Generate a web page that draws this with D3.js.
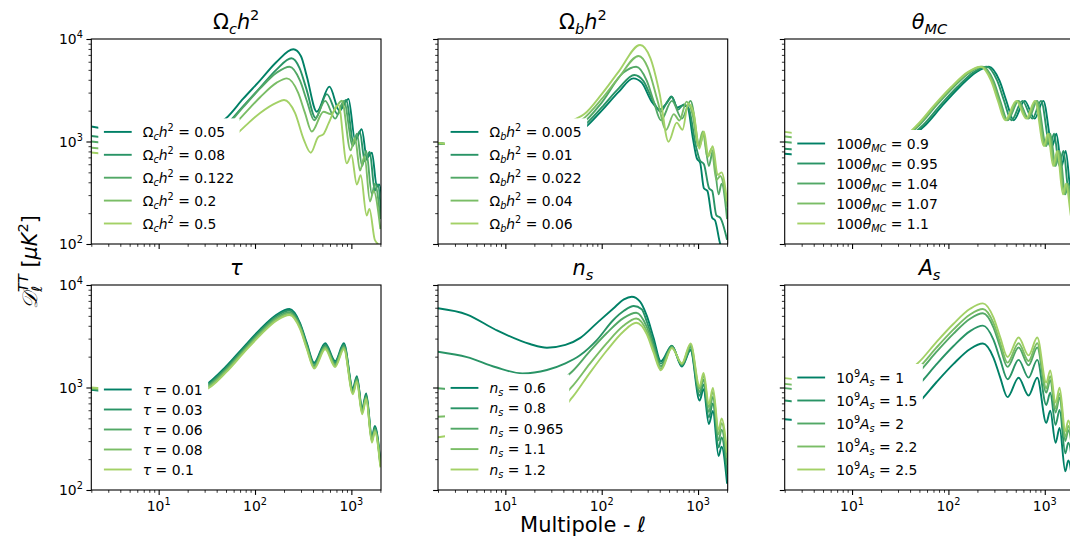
<!DOCTYPE html>
<html><head><meta charset="utf-8">
<script src="https://d3js.org/d3.v7.min.js"></script>
<style>
html,body{margin:0;padding:0;background:#fff;}
svg text{font-family:"DejaVu Sans",sans-serif;white-space:pre;fill:#000;}
</style></head>
<body><svg id="fig" width="1070" height="540"></svg>
<script>
// ---------------- DATA ----------------
const xMajorTicks = [10, 100, 1000];
const xMinorTicks = [2,3,4,5,6,7,8,9,20,30,40,50,60,70,80,90,200,300,400,500,600,700,800,900,2000];
const yMajorTicks = [100, 1000, 10000];
const yMinorTicks = [200,300,400,500,600,700,800,900,2000,3000,4000,5000,6000,7000,8000,9000];
const xTickExps = ["1","2","3"];
const yTickExps = ["2","3","4"];
const xDomain = [2, 2030];
const yDomain = [100, 10000];

const omch2Values = ["0.05","0.08","0.122","0.2","0.5"];
const omch2Curves = [
 [[2,1400],[4,1250],[8,1130],[15,1150],[30,1300],[50,1683],[75,2600],[113,3950],[168,6000],[250,7930],[300,6800],[345,4300],[438,1954],[592,3427],[752,2000],[933,2600],[1094,1035],[1282,1315],[1448,690],[1633,778],[1840,362],[1950,380],[2100,250]],
 [[2,1130],[4,1050],[8,980],[15,1000],[30,1150],[50,1450],[75,2200],[113,3350],[168,5050],[239,6480],[290,5200],[340,3300],[425,1700],[556,2900],[720,1850],[880,2550],[1060,950],[1220,1250],[1380,640],[1550,790],[1750,330],[1880,380],[2050,180]],
 [[2,1000],[4,930],[8,870],[15,880],[30,1010],[50,1400],[75,2150],[113,3300],[168,4700],[228,5370],[294,3900],[345,2500],[411,1610],[535,2490],[679,1670],[836,2490],[1036,905],[1140,1190],[1294,578],[1425,807],[1633,305],[1754,388],[2000,175]],
 [[2,870],[4,820],[8,770],[15,780],[30,880],[50,1200],[75,1800],[113,2700],[168,3750],[214,4130],[280,3000],[330,1900],[388,1250],[514,1954],[610,1850],[797,2500],[980,820],[1090,1080],[1230,520],[1370,720],[1560,260],[1700,330],[2000,140]],
 [[2,780],[4,730],[8,690],[15,700],[30,780],[50,950],[75,1350],[113,1900],[168,2400],[200,2540],[260,1900],[320,1050],[379,778],[450,1100],[514,1183],[580,1500],[735,2290],[897,612],[1000,738],[1140,380],[1250,470],[1440,190],[1540,220],[1750,110],[1900,100]]
];

const ombh2Values = ["0.005","0.01","0.022","0.04","0.06"];
const ombh2Curves = [
 [[2,960],[4,900],[8,850],[15,860],[30,980],[50,1150],[66,1346],[100,2000],[150,3050],[213,4130],[260,3750],[330,2450],[400,2050],[470,2350],[530,2750],[610,2150],[700,2250],[780,2150],[880,1100],[971,685],[1050,620],[1150,350],[1250,330],[1400,180],[1500,170],[1700,100],[1800,90]],
 [[2,960],[4,900],[8,850],[15,860],[30,990],[50,1220],[66,1440],[100,2150],[150,3300],[218,4455],[270,3900],[340,2500],[410,1950],[480,2450],[535,2720],[620,2050],[710,2300],[800,2100],[950,900],[1050,650],[1150,600],[1300,350],[1400,330],[1550,190],[1700,180],[2000,110]],
 [[2,965],[4,910],[8,860],[15,870],[30,1010],[50,1400],[66,1560],[100,2400],[168,4700],[228,5370],[294,3900],[345,2500],[411,1610],[535,2490],[679,1670],[836,2490],[1036,905],[1140,1190],[1294,578],[1425,807],[1633,305],[1754,388],[2000,175]],
 [[2,960],[4,900],[8,860],[15,870],[30,1030],[50,1450],[66,1700],[100,2600],[150,4200],[242,6830],[300,5300],[380,2500],[465,1295],[560,1850],[640,1600],[760,2450],[880,1800],[1000,900],[1120,1250],[1250,700],[1380,850],[1550,420],[1700,460],[2000,230]],
 [[2,970],[4,910],[8,870],[15,880],[30,1060],[50,1600],[66,1850],[100,2900],[150,4800],[250,8730],[320,6500],[400,2900],[493,995],[600,1527],[690,1300],[790,2350],[900,1900],[1030,850],[1150,1250],[1280,720],[1420,900],[1600,470],[1750,500],[2000,260]]
];

const thetaValues = ["0.9","0.95","1.04","1.07","1.1"];
const thetaCurves = [
 [[2,760],[4,730],[8,720],[15,760],[34.7,1010],[57.8,1450],[86.7,2250],[130.6,3400],[194.2,4750],[263.6,5370],[339.9,3900],[398.8,2500],[475.1,1610],[618.5,2490],[784.9,1670],[966.4,2490],[1197.6,905],[1317.8,1190],[1495.9,578],[1647.3,807],[1887.7,305],[2027.6,388],[2312,175]],
 [[2,850],[4,810],[8,790],[15,820],[32.9,1010],[54.8,1450],[82.1,2250],[123.7,3400],[184,4750],[249.7,5370],[321.9,3900],[377.8,2500],[450,1610],[585.8,2490],[743.5,1670],[915.4,2490],[1134.4,905],[1248.3,1190],[1416.9,578],[1560.4,807],[1788.1,305],[1920.6,388],[2190,175]],
 [[2,990],[4,930],[8,870],[15,880],[30,1010],[50,1450],[75,2250],[113,3400],[168,4750],[228,5370],[294,3900],[345,2500],[411,1610],[535,2490],[679,1670],[836,2490],[1036,905],[1140,1190],[1294,578],[1425,807],[1633,305],[1754,388],[2000,175],[2200,125]],
 [[2,1120],[4,1040],[8,960],[15,940],[29.2,1010],[48.6,1450],[72.9,2250],[109.8,3400],[163.3,4750],[221.6,5370],[285.8,3900],[335.3,2500],[399.5,1610],[520,2490],[660,1670],[812.6,2490],[1007,905],[1108.1,1190],[1257.8,578],[1385.1,807],[1587.3,305],[1704.9,388],[1944,175],[2138,125]],
 [[2,1240],[4,1140],[8,1040],[15,1000],[28.4,1010],[47.3,1450],[70.9,2250],[106.8,3400],[158.8,4750],[215.5,5370],[277.8,3900],[326,2500],[388.4,1610],[505.6,2490],[641.7,1670],[790,2490],[979,905],[1077.3,1190],[1222.8,578],[1346.6,807],[1543.2,305],[1657.5,388],[1890,175],[2079,125]]
];

const tauValues = ["0.01","0.03","0.06","0.08","0.1"];
const tauCurves = [
 [[2,950],[4,880],[8,830],[15,850],[30,1040],[50,1605],[75,2440],[113,3690],[168,5150],[228,5830],[294,4230],[345,2710],[411,1750],[535,2700],[679,1810],[836,2700],[1036,980],[1140,1290],[1294,627],[1425,876],[1633,331],[1754,421],[2000,190]],
 [[2,960],[4,895],[8,845],[15,860],[30,1020],[50,1555],[75,2360],[113,3570],[168,4990],[228,5640],[294,4095],[345,2625],[411,1690],[535,2615],[679,1755],[836,2615],[1036,950],[1140,1250],[1294,607],[1425,847],[1633,320],[1754,407],[2000,184]],
 [[2,975],[4,910],[8,860],[15,870],[30,995],[50,1495],[75,2270],[113,3435],[168,4800],[228,5425],[294,3940],[345,2525],[411,1625],[535,2515],[679,1687],[836,2515],[1036,914],[1140,1202],[1294,584],[1425,815],[1633,308],[1754,392],[2000,177]],
 [[2,990],[4,930],[8,875],[15,880],[30,975],[50,1450],[75,2205],[113,3330],[168,4655],[228,5260],[294,3820],[345,2450],[411,1578],[535,2440],[679,1637],[836,2440],[1036,887],[1140,1166],[1294,566],[1425,791],[1633,299],[1754,380],[2000,172]],
 [[2,1000],[4,950],[8,890],[15,890],[30,950],[50,1405],[75,2140],[113,3230],[168,4510],[228,5100],[294,3705],[345,2375],[411,1530],[535,2365],[679,1587],[836,2365],[1036,860],[1140,1130],[1294,549],[1425,767],[1633,290],[1754,369],[2000,166]]
];

const nsValues = ["0.6","0.8","0.965","1.1","1.2"];
const nsCurves = [
 [[2,5930],[4,5150],[8,3640],[18,2655],[27,2443],[42,2600],[60,3050],[89,4250],[132,5900],[170,7250],[205,7690],[250,6900],[294,5000],[345,3060],[411,1800],[535,2560],[679,1600],[836,2300],[1036,745],[1140,960],[1294,440],[1425,590],[1633,215],[1754,265],[2000,115]],
 [[2,2235],[4,1980],[8,1575],[15,1374],[27,1483],[42,1722],[60,2075],[89,2904],[132,4560],[170,5600],[215,6237],[260,5800],[294,4380],[345,2740],[411,1710],[535,2540],[679,1640],[836,2360],[1036,830],[1140,1070],[1294,510],[1425,700],[1633,260],[1754,325],[2000,143]],
 [[2,982],[4,930],[8,870],[15,880],[30,1010],[50,1450],[75,2250],[113,3400],[168,4750],[228,5370],[294,3900],[345,2500],[411,1610],[535,2490],[679,1670],[836,2490],[1036,905],[1140,1190],[1294,578],[1425,807],[1633,305],[1754,388],[2000,175]],
 [[2,519],[4,540],[8,570],[15,620],[30,674],[50,1037],[75,1699],[113,2713],[168,4000],[228,4715],[294,3541],[345,2320],[411,1530],[535,2453],[679,1698],[836,2605],[1036,974],[1140,1298],[1294,642],[1425,907],[1633,349],[1754,449],[2000,206]],
 [[2,327],[4,360],[8,400],[15,450],[30,500],[50,809],[75,1382],[113,2295],[168,3520],[228,4280],[294,3300],[345,2195],[411,1473],[535,2423],[679,1720],[836,2692],[1036,1029],[1140,1384],[1294,692],[1425,989],[1633,386],[1754,499],[2000,232]]
];

const AsValues = ["1","1.5","2","2.2","2.5"];
const AsCurves = [
 [[2,490],[4,465],[8,435],[15,440],[30,505],[50,725],[75,1125],[113,1700],[168,2375],[228,2685],[294,1950],[345,1250],[411,805],[535,1245],[679,835],[836,1245],[1036,452],[1140,595],[1294,289],[1425,403],[1633,152],[1754,194],[2000,87]],
 [[2,747],[4,695],[8,650],[15,657],[30,754],[50,1083],[75,1681],[113,2540],[168,3548],[228,4011],[294,2913],[345,1868],[411,1203],[535,1860],[679,1247],[836,1860],[1036,676],[1140,889],[1294,432],[1425,603],[1633,228],[1754,290],[2000,131]],
 [[2,987],[4,918],[8,859],[15,869],[30,997],[50,1431],[75,2221],[113,3356],[168,4688],[228,5300],[294,3849],[345,2468],[411,1589],[535,2458],[679,1648],[836,2458],[1036,893],[1140,1175],[1294,570],[1425,797],[1633,301],[1754,383],[2000,173]],
 [[2,1086],[4,1010],[8,945],[15,956],[30,1097],[50,1575],[75,2444],[113,3692],[168,5159],[228,5832],[294,4235],[345,2715],[411,1748],[535,2704],[679,1814],[836,2704],[1036,983],[1140,1292],[1294,628],[1425,876],[1633,331],[1754,421],[2000,190]],
 [[2,1233],[4,1147],[8,1073],[15,1085],[30,1245],[50,1788],[75,2774],[113,4192],[168,5857],[228,6621],[294,4809],[345,3083],[411,1985],[535,3070],[679,2059],[836,3070],[1036,1116],[1140,1467],[1294,713],[1425,995],[1633,376],[1754,478],[2000,216]]
];

// -------------- STYLE / LAYOUT --------------
const colors = ["#008066","#299466","#52a866","#7abd66","#a3d166"];
const panelLeft = [91.3, 438, 784.7];
const panelTop = [39, 285];
const PW = 289.7, PH = 205;

const panels = [
 {row:0,col:0,values:omch2Values,curves:omch2Curves,title:[["Ω","r"],["c","sub"],["h","i"],["2","sup"]],leg:[["Ω","r"],["c","sub"],["h","i"],["2","sup"]],spacing:22.9},
 {row:0,col:1,values:ombh2Values,curves:ombh2Curves,title:[["Ω","r"],["b","sub"],["h","i"],["2","sup"]],leg:[["Ω","r"],["b","sub"],["h","i"],["2","sup"]],spacing:22.9},
 {row:0,col:2,values:thetaValues,curves:thetaCurves,title:[["θ","i"],["MC","sub"]],leg:[["100","r"],["θ","i"],["MC","sub"]],spacing:20},
 {row:1,col:0,values:tauValues,curves:tauCurves,title:[["τ","i"]],leg:[["τ","i"]],spacing:20},
 {row:1,col:1,values:nsValues,curves:nsCurves,title:[["n","i"],["s","sub"]],leg:[["n","i"],["s","sub"]],spacing:20.4},
 {row:1,col:2,values:AsValues,curves:AsCurves,title:[["A","i"],["s","sub"]],leg:[["10","r"],["9","sup"],["A","i"],["s","sub"]],spacing:23}
];

const svg = d3.select("#fig");

function mathSpans(t, parts, fs){
  let cur = 0;
  parts.forEach(([s,k])=>{
    let off=0, size=fs, style="normal";
    if(k==="i") style="italic";
    if(k==="sub"){off=0.22*fs; size=0.7*fs; style="italic";}
    if(k==="sup"){off=-0.42*fs; size=0.7*fs;}
    t.append("tspan").attr("dy",(off-cur).toFixed(2)).attr("font-size",size.toFixed(2)).attr("font-style",style).text(s);
    cur = off;
  });
  if(cur!==0) t.append("tspan").attr("dy",(-cur).toFixed(2)).text("");
}

const defs = svg.append("defs");

panels.forEach((p,pi)=>{
  const x0 = panelLeft[p.col], y0 = panelTop[p.row];
  const x = d3.scaleLog().domain(xDomain).range([x0, x0+PW]);
  const y = d3.scaleLog().domain(yDomain).range([y0+PH, y0]);
  const g = svg.append("g");

  defs.append("clipPath").attr("id","clip"+pi).append("rect")
    .attr("x",x0).attr("y",y0).attr("width",PW).attr("height",PH);

  const line = d3.line().x(d=>x(d[0])).y(d=>y(d[1])).curve(d3.curveMonotoneX);
  const cg = g.append("g").attr("clip-path","url(#clip"+pi+")");
  p.curves.forEach((c,i)=>{
    cg.append("path").attr("d",line(c)).attr("fill","none")
      .attr("stroke",colors[i]).attr("stroke-width",1.9);
  });

  // legend
  const fs = 13.9;
  const bl = x0 + 7, bb = y0 + PH - 7;
  const lastC = bb - 13.5;
  const firstC = lastC - 4*p.spacing;
  const lg = g.append("g");
  const box = lg.append("rect").attr("fill","#fff");
  const textX = bl + 5.6 + 27.8 + 11.1;
  let maxW = 0;
  p.values.forEach((v,i)=>{
    const cy = firstC + i*p.spacing;
    lg.append("line").attr("x1",bl+5.6).attr("x2",bl+5.6+27.8).attr("y1",cy).attr("y2",cy)
      .attr("stroke",colors[i]).attr("stroke-width",1.9);
    const t = lg.append("text").attr("x",textX).attr("y",cy+5).attr("font-size",fs);
    mathSpans(t, p.leg.concat([[" = "+v,"r"]]), fs);
    maxW = Math.max(maxW, t.node().getBBox().width);
  });
  const top = firstC - 13.5;
  box.attr("x",bl).attr("y",top).attr("width",textX+maxW+5.6-bl).attr("height",bb-top);

  // spines
  g.append("rect").attr("x",x0).attr("y",y0).attr("width",PW).attr("height",PH)
    .attr("fill","none").attr("stroke","#000").attr("stroke-width",1.1);

  // ticks
  const xa = g.append("g").attr("transform",`translate(0,${y0+PH})`);
  xa.call(d3.axisBottom(x).tickValues(xMajorTicks).tickSize(4.9).tickSizeOuter(0).tickFormat(""));
  const xm = g.append("g").attr("transform",`translate(0,${y0+PH})`);
  xm.call(d3.axisBottom(x).tickValues(xMinorTicks).tickSize(2.8).tickSizeOuter(0).tickFormat(""));
  const ya = g.append("g").attr("transform",`translate(${x0},0)`);
  ya.call(d3.axisLeft(y).tickValues(yMajorTicks).tickSize(4.9).tickSizeOuter(0).tickFormat(""));
  const ym = g.append("g").attr("transform",`translate(${x0},0)`);
  ym.call(d3.axisLeft(y).tickValues(yMinorTicks).tickSize(2.8).tickSizeOuter(0).tickFormat(""));
  [xa,xm,ya,ym].forEach(a=>{a.select(".domain").remove(); a.selectAll("line").attr("stroke","#000");});
  xa.selectAll("line").attr("stroke-width",1.1); ya.selectAll("line").attr("stroke-width",1.1);
  xm.selectAll("line").attr("stroke-width",0.8); ym.selectAll("line").attr("stroke-width",0.8);

  if(p.row===1){
    xMajorTicks.forEach((v,i)=>{
      const t = g.append("text").attr("x",x(v)).attr("y",y0+PH+20.5).attr("text-anchor","middle").attr("font-size",13.9);
      mathSpans(t, [["10","r"],[xTickExps[i],"sup"]], 13.9);
    });
  }
  if(p.col===0){
    yMajorTicks.forEach((v,i)=>{
      const t = g.append("text").attr("x",x0-8.4).attr("y",y(v)+5).attr("text-anchor","end").attr("font-size",13.9);
      mathSpans(t, [["10","r"],[yTickExps[i],"sup"]], 13.9);
    });
  }
  // title
  const tt = g.append("text").attr("x",x0+PW/2).attr("y",p.row===0?29:275).attr("text-anchor","middle").attr("font-size",20.8);
  mathSpans(tt, p.title, 20.8);
});

// axis labels
const xl = svg.append("text").attr("x",583).attr("y",532).attr("text-anchor","middle").attr("font-size",21);
mathSpans(xl, [["Multipole - ","r"],["ℓ","i"]], 21);

const yl = svg.append("text").attr("transform","translate(37,262) rotate(-90)").attr("text-anchor","middle").attr("font-size",20.8);
(function(){
  const fs=20.8;
  yl.append("tspan").attr("font-family","'DejaVu Serif',serif").attr("font-style","italic").text("𝒟");
  yl.append("tspan").attr("dy",0.25*fs).attr("font-size",0.7*fs).attr("font-style","italic").text("ℓ");
  yl.append("tspan").attr("dx",-0.7*fs*0.42).attr("dy",-0.67*fs).attr("font-size",0.7*fs).attr("font-style","italic").text("TT");
  yl.append("tspan").attr("dy",0.42*fs).text(" [");
  yl.append("tspan").attr("font-style","italic").text("μK");
  yl.append("tspan").attr("dy",-0.42*fs).attr("font-size",0.7*fs).text("2");
  yl.append("tspan").attr("dy",0.42*fs).text("]");
})();
</script></body></html>
